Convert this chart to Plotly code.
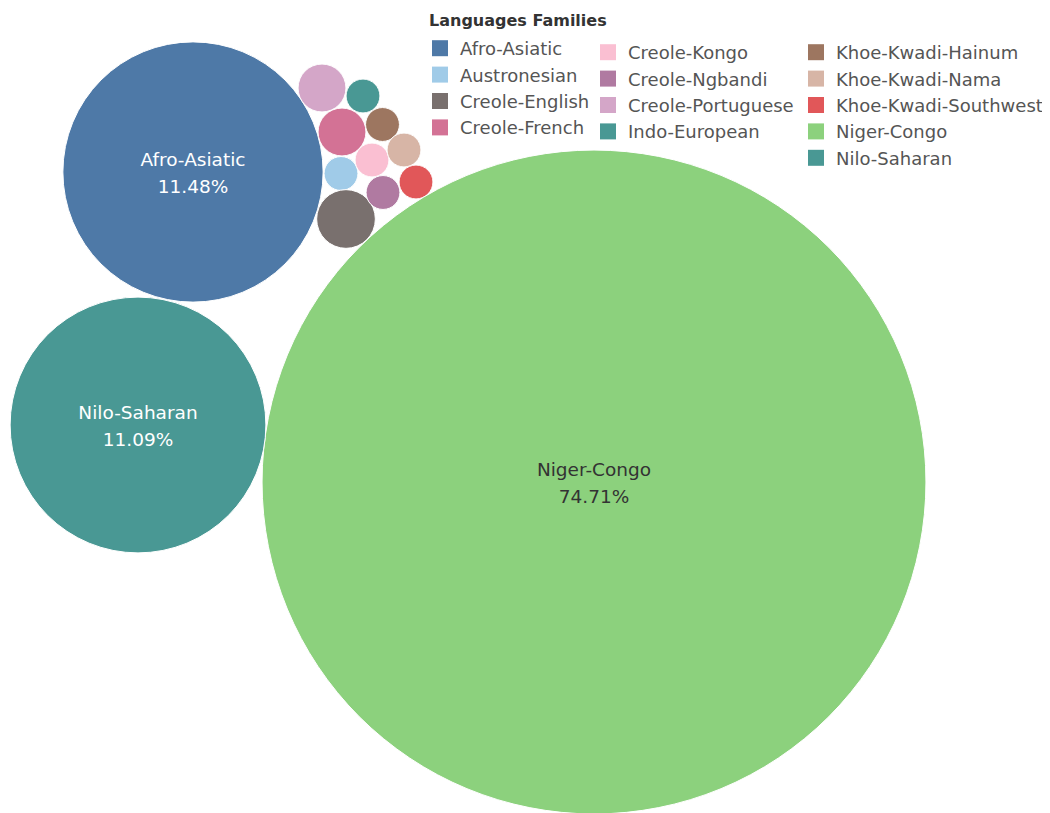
import math
import plotly.graph_objects as go

# ---- data ----
families = ["Afro-Asiatic", "Austronesian", "Creole-English", "Creole-French",
            "Creole-Kongo", "Creole-Ngbandi", "Creole-Portuguese", "Indo-European",
            "Khoe-Kwadi-Hainum", "Khoe-Kwadi-Nama", "Khoe-Kwadi-Southwest",
            "Niger-Congo", "Nilo-Saharan"]
languages = [59, 1, 3, 2, 1, 1, 2, 1, 1, 1, 1, 384, 57]
labelled = ["Afro-Asiatic", "Nilo-Saharan", "Niger-Congo"]
legend_title = "Languages Families"

# ---- layout / style (packing positions in page-pixel space) ----
centers = {
    "Afro-Asiatic": (193, 172), "Austronesian": (341, 173.5),
    "Creole-English": (346, 219), "Creole-French": (342, 132),
    "Creole-Kongo": (372, 160), "Creole-Ngbandi": (383, 192.5),
    "Creole-Portuguese": (322, 88), "Indo-European": (363, 96),
    "Khoe-Kwadi-Hainum": (382.5, 124.5), "Khoe-Kwadi-Nama": (404, 150),
    "Khoe-Kwadi-Southwest": (416, 182), "Niger-Congo": (594, 482),
    "Nilo-Saharan": (138, 425),
}
colors = {
    "Afro-Asiatic": "#4e79a7", "Austronesian": "#a0cbe8",
    "Creole-English": "#79706e", "Creole-French": "#d37295",
    "Creole-Kongo": "#fabfd2", "Creole-Ngbandi": "#b07aa1",
    "Creole-Portuguese": "#d4a6c8", "Indo-European": "#499894",
    "Khoe-Kwadi-Hainum": "#9d7660", "Khoe-Kwadi-Nama": "#d7b5a6",
    "Khoe-Kwadi-Southwest": "#e15759", "Niger-Congo": "#8cd17d",
    "Nilo-Saharan": "#499894",
}
text_colors = {"Afro-Asiatic": "white", "Nilo-Saharan": "white", "Niger-Congo": "#333333"}
K = 16.94  # pixels per sqrt(count)
FONT = "DejaVu Sans"
W, H = 1050, 813
OFF = 8  # page body margin


def px_x(p):
    return (p - OFF) / W


def px_y(p):
    return 1 - (p - OFF) / H


total = sum(languages)
fig = go.Figure()

shapes = []
for fam, n in zip(families, languages):
    cx, cy = centers[fam]
    r = K * math.sqrt(n)
    shapes.append(dict(type="circle", xref="x", yref="y",
                       x0=cx - r, x1=cx + r, y0=cy - r, y1=cy + r,
                       fillcolor=colors[fam], line=dict(color="white", width=1),
                       layer="below"))

# labels (name line and percentage line)
for fam, n in zip(families, languages):
    if fam in labelled:
        cx, cy = centers[fam]
        fig.add_trace(go.Scatter(
            x=[cx, cx], y=[cy - 11, cy + 16], mode="text",
            text=[fam, f"{100 * n / total:.2f}%"],
            textfont=dict(family=FONT, size=18.5, color=text_colors[fam]),
            showlegend=False, hoverinfo="skip"))

# legend entries in three columns
cols = [families[0:4], families[4:8], families[8:13]]
legend_ids = ["legend", "legend2", "legend3"]
for fam in families:
    ci = [i for i, c in enumerate(cols) if fam in c][0]
    fig.add_trace(go.Scatter(
        x=[None], y=[None], mode="markers", name=fam,
        marker=dict(symbol="square", size=16, color=colors[fam]),
        legend=legend_ids[ci], showlegend=True))

legend_common = dict(font=dict(family=FONT, size=18, color="#555555"),
                     bgcolor="rgba(0,0,0,0)", borderwidth=0,
                     xanchor="left", yanchor="top", tracegroupgap=0)

fig.update_layout(
    width=W, height=H, margin=dict(l=0, r=0, t=0, b=0),
    paper_bgcolor="white", plot_bgcolor="white",
    shapes=shapes,
    xaxis=dict(range=[OFF, W + OFF], visible=False, fixedrange=True),
    yaxis=dict(range=[H + OFF, OFF], visible=False, fixedrange=True),
    legend=dict(x=px_x(420), y=px_y(30), **legend_common),
    legend2=dict(x=px_x(588), y=px_y(34), **legend_common),
    legend3=dict(x=px_x(796), y=px_y(34), **legend_common),
    annotations=[dict(text=legend_title, xref="paper", yref="paper",
                      x=px_x(427), y=px_y(20), xanchor="left", yanchor="middle",
                      showarrow=False,
                      font=dict(family=FONT, size=16, color="#333333", weight=600))],
)

fig.write_html("out.html")
